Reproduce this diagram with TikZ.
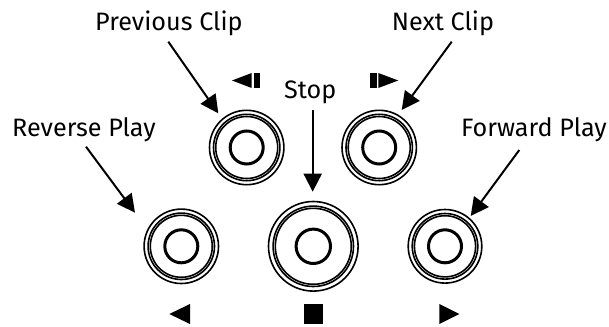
\documentclass[tikz,border=0pt]{standalone}
\usepackage{fontspec}
\setmainfont{Fira Sans}
\usetikzlibrary{arrows.meta}
\begin{document}
\begin{tikzpicture}[x=1pt,y=-1pt,
  ring/.style={draw, line width=1.6pt},
  core/.style={circle, draw, line width=3pt, inner sep=0pt},
  lab/.style={font=\fontsize{25.2}{28}\selectfont, inner sep=0pt, anchor=base west},
  arr/.style={line width=2pt, -{Triangle[length=18pt,width=18pt]}},
  icon/.style={fill=black}]
\useasboundingbox (0,0) rectangle (609,326);

% buttons
\node[core, minimum size=33pt] (tl) at (246.7,147.5) {};
\node[core, minimum size=33pt] (tr) at (379.2,147.5) {};
\node[core, minimum size=33pt] (bl) at (181.3,246.3) {};
\node[core, minimum size=34.4pt] (bc) at (313.3,246.3) {};
\node[core, minimum size=33pt] (br) at (445,246.3) {};

\foreach \b/\r in {tl/37.2, tr/37.2, bl/37.2, br/36.8}{
  \draw[ring] (\b) circle[radius=\r];
  \draw[ring] (\b) circle[radius=\r-4];
  \draw[ring] (\b) circle[radius=\r-6.2];
}
\draw[ring] (bc) circle[radius=44.8];
\draw[ring] (bc) circle[radius=40.2];
\draw[ring] (bc) circle[radius=38.0];

% labels
\node[lab] (prev) at (95,31) {Previous Clip};
\node[lab] (next) at (391.7,31) {Next Clip};
\node[lab] (stop) at (284,99) {Stop};
\node[lab] (rev) at (12,136) {Reverse Play};
\node[lab] (fwd) at (461,136) {Forward Play};

% arrow end points
\coordinate (prevS) at (168.3,41.7);
\coordinate (prevE) at (218.3,113.3);
\coordinate (nextS) at (451.7,41.7);
\coordinate (nextE) at (401.7,110);
\coordinate (stopS) at (312.7,110);
\coordinate (stopE) at (312.7,191.7);
\coordinate (revS) at (86,146.7);
\coordinate (revE) at (135,212.7);
\coordinate (fwdS) at (519.3,150);
\coordinate (fwdE) at (470.7,216);

\draw[arr] (prevS) -- (prevE);
\draw[arr] (nextS) -- (nextE);
\draw[arr] (stopS) -- (stopE);
\draw[arr] (revS) -- (revE);
\draw[arr] (fwdS) -- (fwdE);

% icons
\fill[icon] (232,80.5) -- (251.7,73) -- (251.7,88) -- cycle;
\fill[icon] (254,73) rectangle (260,88);
\fill[icon] (370,73) rectangle (376.7,88);
\fill[icon] (378.3,73) -- (378.3,88) -- (398.3,80.5) -- cycle;
\fill[icon] (169.3,314) -- (190,304) -- (190,324) -- cycle;
\fill[icon] (304,304) rectangle (323.3,323.5);
\fill[icon] (439.3,304) -- (439.3,324) -- (459.3,314) -- cycle;
\end{tikzpicture}
\end{document}
